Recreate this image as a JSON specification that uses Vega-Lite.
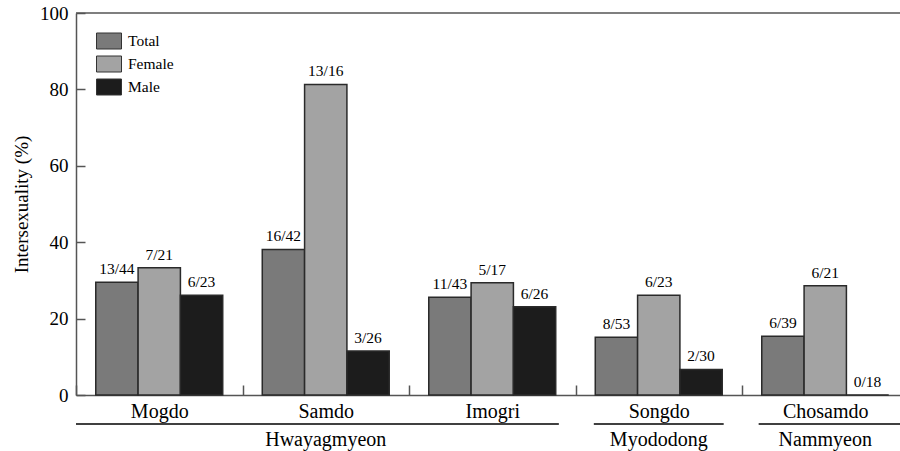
{
  "$schema": "https://vega.github.io/schema/vega-lite/v6.json",
  "width": 824,
  "height": 382,
  "autosize": {"type": "none"},
  "padding": {"left": 76, "top": 13, "right": 0, "bottom": 56},
  "background": "white",
  "config": {
    "view": {"stroke": null},
    "font": "Liberation Serif"
  },
  "datasets": {
    "bars": [
      {"Site": "Mogdo", "Series": "Total", "Value": 29.5, "Label": "13/44"},
      {"Site": "Mogdo", "Series": "Female", "Value": 33.3, "Label": "7/21"},
      {"Site": "Mogdo", "Series": "Male", "Value": 26.1, "Label": "6/23"},
      {"Site": "Samdo", "Series": "Total", "Value": 38.1, "Label": "16/42"},
      {"Site": "Samdo", "Series": "Female", "Value": 81.3, "Label": "13/16"},
      {"Site": "Samdo", "Series": "Male", "Value": 11.5, "Label": "3/26"},
      {"Site": "Imogri", "Series": "Total", "Value": 25.6, "Label": "11/43"},
      {"Site": "Imogri", "Series": "Female", "Value": 29.4, "Label": "5/17"},
      {"Site": "Imogri", "Series": "Male", "Value": 23.1, "Label": "6/26"},
      {"Site": "Songdo", "Series": "Total", "Value": 15.1, "Label": "8/53"},
      {"Site": "Songdo", "Series": "Female", "Value": 26.1, "Label": "6/23"},
      {"Site": "Songdo", "Series": "Male", "Value": 6.7, "Label": "2/30"},
      {"Site": "Chosamdo", "Series": "Total", "Value": 15.4, "Label": "6/39"},
      {"Site": "Chosamdo", "Series": "Female", "Value": 28.6, "Label": "6/21"},
      {"Site": "Chosamdo", "Series": "Male", "Value": 0, "Label": "0/18"}
    ],
    "groups": [
      {"Region": "Hwayagmyeon", "From": "Mogdo", "To": "Imogri", "Mid": "Samdo"},
      {"Region": "Myododong", "From": "Songdo", "To": "Songdo", "Mid": "Songdo"},
      {"Region": "Nammyeon", "From": "Chosamdo", "To": "Chosamdo", "Mid": "Chosamdo"}
    ]
  },
  "layer": [
    {
      "data": {"name": "bars"},
      "mark": {"type": "bar", "stroke": "#2a2a2a", "strokeWidth": 1.5},
      "encoding": {
        "x": {
          "field": "Site", "type": "nominal",
          "scale": {"domain": ["Mogdo", "Samdo", "Imogri", "Songdo", "Chosamdo"], "range": [0, 832.5], "paddingInner": 0, "paddingOuter": 0},
          "axis": {
            "title": null, "labelAngle": 0, "labelFont": "Liberation Serif", "labelFontSize": 20, "labelColor": "#000",
            "labelPadding": 16, "tickBand": "extent", "tickSize": -10, "tickColor": "#555", "tickWidth": 1.5,
            "domainColor": "#555", "domainWidth": 1.5
          }
        },
        "xOffset": {
          "field": "Series", "type": "nominal",
          "scale": {"domain": ["Total", "Female", "Male"], "paddingInner": 0, "paddingOuter": 0.467}
        },
        "y": {
          "field": "Value", "type": "quantitative",
          "scale": {"domain": [0, 100], "nice": false},
          "axis": {
            "title": "Intersexuality (%)", "titleFont": "Liberation Serif", "titleFontSize": 19, "titleFontWeight": "normal", "titleColor": "#000", "titlePadding": 8,
            "values": [0, 20, 40, 60, 80, 100], "labelFont": "Liberation Serif", "labelFontSize": 19, "labelColor": "#000", "labelPadding": 17,
            "tickSize": -9, "tickColor": "#555", "tickWidth": 1.5, "domainColor": "#555", "domainWidth": 1.5, "grid": false
          }
        },
        "fill": {
          "field": "Series", "type": "nominal",
          "scale": {"domain": ["Total", "Female", "Male"], "range": ["#7a7a7a", "#a3a3a3", "#1c1c1c"]},
          "legend": {
            "title": null, "orient": "none", "legendX": 20, "legendY": 15,
            "symbolType": "M-1,-0.64L1,-0.64L1,0.64L-1,0.64Z", "symbolSize": 625,
            "symbolStrokeColor": "#333", "symbolStrokeWidth": 1, "symbolOpacity": 1,
            "labelFont": "Liberation Serif", "labelFontSize": 15.5, "labelColor": "#000", "labelOffset": 6, "rowPadding": 0
          }
        }
      }
    },
    {
      "data": {"name": "bars"},
      "mark": {"type": "text", "baseline": "alphabetic", "dy": -8, "font": "Liberation Serif", "fontSize": 15.5, "color": "#000"},
      "encoding": {
        "x": {"field": "Site", "type": "nominal", "scale": {"domain": ["Mogdo", "Samdo", "Imogri", "Songdo", "Chosamdo"]}},
        "xOffset": {"field": "Series", "type": "nominal", "scale": {"domain": ["Total", "Female", "Male"]}},
        "y": {"field": "Value", "type": "quantitative"},
        "text": {"field": "Label"}
      }
    },
    {
      "data": {"values": [{}]},
      "mark": {"type": "rule", "color": "#555", "strokeWidth": 1.5},
      "encoding": {"y": {"datum": 100}}
    },
    {
      "data": {"name": "groups"},
      "transform": [{"filter": "datum.Region === 'Hwayagmyeon'"}],
      "mark": {"type": "rule", "color": "#000", "strokeWidth": 1.5},
      "encoding": {
        "x": {"field": "From", "type": "nominal", "bandPosition": 0, "scale": {"domain": ["Mogdo", "Samdo", "Imogri", "Songdo", "Chosamdo"]}},
        "x2": {"field": "To", "bandPosition": 0.9},
        "y": {"datum": -7.6}
      }
    },
    {
      "data": {"name": "groups"},
      "transform": [{"filter": "datum.Region === 'Myododong'"}],
      "mark": {"type": "rule", "color": "#000", "strokeWidth": 1.5},
      "encoding": {
        "x": {"field": "From", "type": "nominal", "bandPosition": 0.11, "scale": {"domain": ["Mogdo", "Samdo", "Imogri", "Songdo", "Chosamdo"]}},
        "x2": {"field": "To", "bandPosition": 0.89},
        "y": {"datum": -7.6}
      }
    },
    {
      "data": {"name": "groups"},
      "transform": [{"filter": "datum.Region === 'Nammyeon'"}],
      "mark": {"type": "rule", "color": "#000", "strokeWidth": 1.5},
      "encoding": {
        "x": {"field": "From", "type": "nominal", "bandPosition": 0.1, "scale": {"domain": ["Mogdo", "Samdo", "Imogri", "Songdo", "Chosamdo"]}},
        "x2": {"field": "To", "bandPosition": 1},
        "y": {"datum": -7.6}
      }
    },
    {
      "data": {"name": "groups"},
      "mark": {"type": "text", "baseline": "middle", "font": "Liberation Serif", "fontSize": 20, "color": "#000"},
      "encoding": {
        "x": {"field": "Mid", "type": "nominal", "scale": {"domain": ["Mogdo", "Samdo", "Imogri", "Songdo", "Chosamdo"]}},
        "y": {"datum": -11.8},
        "text": {"field": "Region"}
      }
    }
  ]
}
